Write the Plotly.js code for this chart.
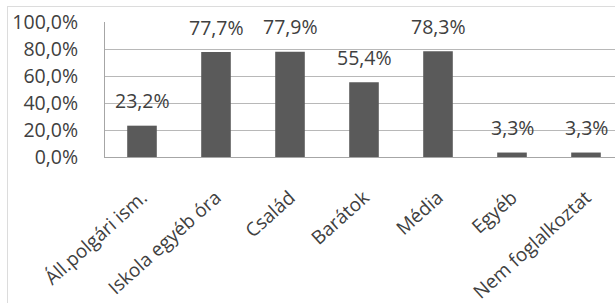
<!DOCTYPE html>
<html>
<head>
<meta charset="utf-8">
<script src="https://cdn.plot.ly/plotly-3.0.1.min.js"></script>
<style>
html,body{margin:0;padding:0;background:#fff;overflow:hidden;width:615px;height:303px;}
#frame{position:absolute;left:7px;top:6px;width:640px;height:320px;border-left:1px solid #dcdcdc;border-top:1px solid #dcdcdc;}
#chart{position:absolute;left:0;top:0;}
</style>
</head>
<body>
<div id="frame"></div>
<div id="chart"></div>
<script>
const categories = ["Áll.polgári ism.", "Iskola egyéb óra", "Család", "Barátok", "Média", "Egyéb", "Nem foglalkoztat"];
const values = [23.2, 77.7, 77.9, 55.4, 78.3, 3.3, 3.3];
const tickVals = [0, 20, 40, 60, 80, 100];
const tickText = ["0,0%", "20,0%", "40,0%", "60,0%", "80,0%", "100,0%"];
const labelText = values.map(v => v.toFixed(1).replace('.', ',') + '%');

const FONT = "Open Sans, Noto Sans, sans-serif";
const FS = 19.5;
const trace = {
  type: 'bar',
  x: categories,
  y: values,
  marker: {color: '#5a5a5a'},
  hoverinfo: 'none'
};
const annotations = categories.map((c, i) => ({
  x: c, y: values[i], xref: 'x', yref: 'y',
  text: labelText[i], showarrow: false,
  yanchor: 'middle', yshift: 25,
  font: {family: FONT, size: FS, color: '#404040'}
}));
const layout = {
  width: 641, height: 303,
  margin: {l: 105, r: 18, t: 22, b: 146},
  paper_bgcolor: 'rgba(0,0,0,0)',
  plot_bgcolor: 'rgba(0,0,0,0)',
  bargap: 0.6,
  showlegend: false,
  font: {family: FONT, size: FS, color: '#404040'},
  xaxis: {
    type: 'category',
    tickangle: -42,
    showgrid: false,
    showline: true, linecolor: '#a6a6a6', linewidth: 1,
    ticks: '', ticklabelstandoff: 21,
    tickfont: {family: FONT, size: 19, color: '#404040'}
  },
  yaxis: {
    range: [0, 100],
    tickvals: tickVals, ticktext: tickText,
    showgrid: true, gridcolor: '#b8b8b8', gridwidth: 1,
    showline: true, linecolor: '#a6a6a6', linewidth: 1,
    zeroline: false,
    ticks: '', ticklabelstandoff: 22,
    tickfont: {family: FONT, size: FS, color: '#404040'}
  },
  annotations: annotations
};
Plotly.newPlot('chart', [trace], layout, {displayModeBar: false, staticPlot: true});
</script>
</body>
</html>
